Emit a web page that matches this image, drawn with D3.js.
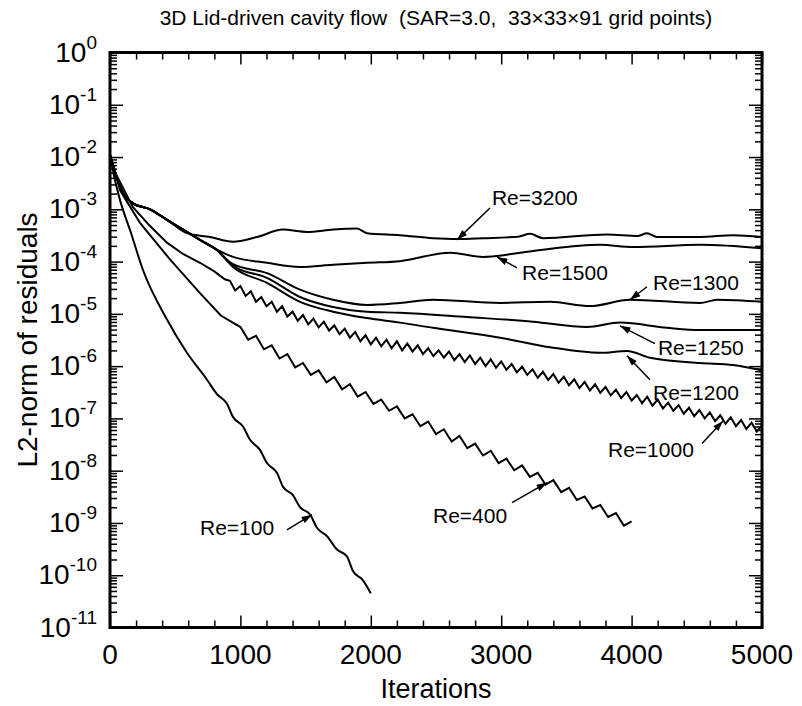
<!DOCTYPE html>
<html>
<head>
<meta charset="utf-8">
<script src="https://cdn.jsdelivr.net/npm/d3@7"></script>
<style>
  body { margin: 0; background: #fff; }
  svg { display: block; }
  text { font-family: "Liberation Sans", Arial, Helvetica, sans-serif; fill: #000; white-space: pre; }
</style>
</head>
<body>
<script>
// residual history, [iteration, L2-norm of residuals]
const re100 = [[0,1.1e-2],[30,4.5e-3],[77,1.5e-3],[160,3.6e-4],[253,6.9e-5],[437,7.8e-6],[590,1.8e-6],
  [744,5.5e-7],[821,2.9e-7],[897,1.9e-7],[943,1.07e-7],[1020,7.0e-8],[1074,3.9e-8],[1150,2.5e-8],
  [1204,1.4e-8],[1281,9.0e-9],[1327,4.9e-9],[1403,3.4e-9],[1457,2.0e-9],[1534,1.45e-9],[1587,8.1e-10],
  [1664,5.6e-10],[1741,3.1e-10],[1817,2.3e-10],[1863,1.2e-10],[1940,8.0e-11],[2000,4.5e-11]];

const re400 = [[0,1.1e-2],[40,5.0e-3],[77,2.3e-3],[230,5.5e-4],[460,1.1e-4],[690,2.5e-5],[850,9.3e-6],
  [1000,5.6e-6],[1060,3.2e-6],[1120,3.8e-6],[1180,2.1e-6],[1240,2.5e-6],[1300,1.4e-6],[1360,1.7e-6],
  [1420,9.5e-7],[1480,1.15e-6],[1540,6.8e-7],[1600,8.3e-7],[1660,4.9e-7],[1720,6.2e-7],[1780,3.6e-7],
  [1840,4.5e-7],[1900,2.6e-7],[1960,3.2e-7],[2020,1.9e-7],[2080,2.3e-7],[2140,1.4e-7],[2200,1.7e-7],
  [2260,1.0e-7],[2320,1.2e-7],[2380,7.1e-8],[2440,8.7e-8],[2500,5.0e-8],[2560,6.2e-8],[2620,3.6e-8],
  [2680,4.6e-8],[2740,2.7e-8],[2800,3.3e-8],[2860,1.95e-8],[2920,2.4e-8],[2980,1.4e-8],[3040,1.7e-8],
  [3100,1.02e-8],[3160,1.26e-8],[3220,7.6e-9],[3280,9.1e-9],[3340,5.4e-9],[3400,6.6e-9],[3460,3.9e-9],
  [3520,4.7e-9],[3580,2.75e-9],[3640,3.2e-9],[3700,1.9e-9],[3760,2.2e-9],[3820,1.3e-9],[3880,1.55e-9],
  [3940,8.9e-10],[4000,1.07e-9]];

const re1000 = [[0,1.1e-2],[40,5.0e-3],[176,1.1e-3],[300,5.0e-4],[437,2.3e-4],[560,1.4e-4],[690,9.5e-5],
  [800,6.5e-5],[880,4.6e-5],
  [920,4.3e-5],[960,2.8e-5],[1000,3.4e-5],[1040,2.2e-5],[1080,2.7e-5],[1120,1.7e-5],[1160,2.1e-5],
  [1200,1.4e-5],[1240,1.7e-5],[1280,1.1e-5],[1320,1.4e-5],[1360,8.9e-6],[1400,1.1e-5],[1440,7.4e-6],
  [1480,9.5e-6],[1520,6.3e-6],[1560,8.1e-6],[1600,5.5e-6],[1640,7.1e-6],[1680,4.8e-6],[1720,6.0e-6],
  [1760,4.1e-6],[1800,5.2e-6],[1840,3.5e-6],[1880,4.5e-6],[1920,3.0e-6],[1960,3.9e-6],[2000,2.6e-6],
  [2040,3.5e-6],[2080,2.4e-6],[2120,3.2e-6],[2160,2.2e-6],[2200,3.0e-6],[2240,2.0e-6],[2280,2.7e-6],
  [2320,1.9e-6],[2360,2.5e-6],[2400,1.7e-6],[2440,2.2e-6],[2480,1.55e-6],[2520,2.0e-6],[2560,1.45e-6],
  [2600,1.9e-6],[2640,1.3e-6],[2680,1.7e-6],[2720,1.2e-6],[2760,1.6e-6],[2800,1.1e-6],[2840,1.45e-6],
  [2880,1.0e-6],[2920,1.35e-6],[2960,9.3e-7],[3000,1.23e-6],[3040,8.5e-7],[3080,1.1e-6],[3120,7.6e-7],
  [3160,9.8e-7],[3200,6.8e-7],[3240,8.7e-7],[3280,6.0e-7],[3320,7.8e-7],[3360,5.4e-7],[3400,7.1e-7],
  [3440,4.8e-7],[3480,6.3e-7],[3520,4.3e-7],[3560,5.6e-7],[3600,3.8e-7],[3640,5.0e-7],[3680,3.4e-7],
  [3720,4.5e-7],[3760,3.1e-7],[3800,4.0e-7],[3840,2.75e-7],[3880,3.55e-7],[3920,2.45e-7],[3960,3.2e-7],
  [4000,2.2e-7],[4040,2.8e-7],[4080,1.95e-7],[4120,2.6e-7],[4160,1.75e-7],[4200,2.3e-7],[4240,1.55e-7],
  [4280,2.0e-7],[4320,1.4e-7],[4360,1.8e-7],[4400,1.23e-7],[4440,1.6e-7],[4480,1.1e-7],[4520,1.45e-7],
  [4560,1.0e-7],[4600,1.3e-7],[4640,8.9e-8],[4680,1.15e-7],[4720,7.9e-8],[4760,1.05e-7],[4800,7.1e-8],
  [4840,9.3e-8],[4880,6.3e-8],[4920,8.3e-8],[4960,5.6e-8],[5000,7.4e-8]];

const re1200 = [[0,1.1e-2],[40,5.0e-3],[77,2.7e-3],[176,1.3e-3],[307,1.0e-3],[437,6.3e-4],
  [560,4.1e-4],[690,2.6e-4],[820,1.66e-4],[943,7.9e-5],[1204,3.9e-5],[1457,1.7e-5],[1710,1.1e-5],
  [1971,8.3e-6],[2224,6.8e-6],[2477,5.4e-6],[2991,3.5e-6],[3374,2.3e-6],[3758,1.8e-6],[3965,1.95e-6],
  [4141,1.45e-6],[4525,1.15e-6],[4778,1.05e-6],[5000,8.3e-7]];

const re1250 = [[0,1.1e-2],[40,5.0e-3],[77,2.7e-3],[176,1.3e-3],[307,1.0e-3],[437,6.3e-4],
  [560,4.1e-4],[690,2.6e-4],[820,1.66e-4],[943,8.3e-5],[1204,4.9e-5],[1457,2.1e-5],[1710,1.35e-5],
  [1971,1.1e-5],[2224,1.05e-5],[2738,8.7e-6],[3244,7.1e-6],[3658,5.6e-6],[3911,6.8e-6],[4272,5.4e-6],
  [4525,4.9e-6],[5000,4.9e-6]];

const re1300 = [[0,1.1e-2],[40,5.0e-3],[77,2.7e-3],[176,1.3e-3],[307,1.0e-3],[437,6.3e-4],
  [560,4.1e-4],[690,2.6e-4],[820,1.66e-4],[943,8.9e-5],[1204,6.0e-5],[1457,2.9e-5],[1710,1.86e-5],
  [1971,1.48e-5],[2224,1.62e-5],[2477,1.86e-5],[2991,1.62e-5],[3374,1.7e-5],[3681,1.41e-5],
  [3988,1.86e-5],[4525,1.62e-5],[4655,1.86e-5],[5000,1.7e-5]];

const re1500 = [[0,1.1e-2],[40,5.0e-3],[77,2.7e-3],[176,1.3e-3],[307,1.0e-3],[437,6.3e-4],
  [560,4.1e-4],[690,2.6e-4],[820,1.7e-4],[943,1.23e-4],[1204,9.5e-5],[1457,7.9e-5],[1710,8.7e-5],
  [1971,9.5e-5],[2224,1.02e-4],[2607,1.48e-4],[2860,1.23e-4],[3244,1.6e-4],[3758,2.1e-4],
  [4011,1.9e-4],[4525,2.1e-4],[5000,1.8e-4]];

const re3200 = [[0,1.1e-2],[40,5.0e-3],[77,2.7e-3],[176,1.3e-3],[307,1.0e-3],[437,6.3e-4],
  [590,3.5e-4],[767,2.95e-4],[943,2.4e-4],[1127,2.95e-4],[1327,4.1e-4],[1511,3.7e-4],[1710,4.1e-4],
  [1894,4.3e-4],[1971,3.5e-4],[2224,3.2e-4],[2477,2.8e-4],[2661,2.7e-4],[2860,2.8e-4],[3130,3.0e-4],
  [3221,3.4e-4],[3321,2.8e-4],[3811,3.3e-4],[4050,3.1e-4],[4118,3.5e-4],[4195,2.95e-4],[4525,2.95e-4],
  [4778,3.2e-4],[5000,2.95e-4]];

const series = [
  { name: 'Re=100', values: re100, zigzag: false },
  { name: 'Re=400', values: re400, zigzag: true },
  { name: 'Re=1000', values: re1000, zigzag: true },
  { name: 'Re=1200', values: re1200, zigzag: false },
  { name: 'Re=1250', values: re1250, zigzag: false },
  { name: 'Re=1300', values: re1300, zigzag: false },
  { name: 'Re=1500', values: re1500, zigzag: false },
  { name: 'Re=3200', values: re3200, zigzag: false }
];

// callouts: text start, arrow tail, arrow tip (iteration, residual)
const callouts = [
  { text: 'Re=3200', at: [2929, 1.2e-3],  from: [2914, 1.06e-3], to: [2661, 2.6e-4] },
  { text: 'Re=1500', at: [3160, 4.5e-5],  from: [3121, 7.6e-5],  to: [2968, 1.23e-4] },
  { text: 'Re=1300', at: [4164, 2.9e-5],  from: [4118, 3.3e-5],  to: [3988, 1.86e-5] },
  { text: 'Re=1250', at: [4202, 1.65e-6], from: [4179, 2.7e-6],  to: [3911, 5.9e-6] },
  { text: 'Re=1200', at: [4164, 2.3e-7],  from: [4141, 5.5e-7],  to: [3965, 1.58e-6] },
  { text: 'Re=1000', at: [3819, 1.85e-8], from: [4540, 3.3e-8],  to: [4701, 8.9e-8] },
  { text: 'Re=400',  at: [2477, 1.0e-9],  from: [3083, 2.45e-9], to: [3351, 5.9e-9] },
  { text: 'Re=100',  at: [690, 5.9e-10],  from: [1357, 7.4e-10], to: [1549, 1.44e-9] }
];

const xMajor = [0, 1000, 2000, 3000, 4000, 5000];
const yExponents = [0, -1, -2, -3, -4, -5, -6, -7, -8, -9, -10, -11];

const titleText = '3D Lid-driven cavity flow  (SAR=3.0,  33\u00d733\u00d791 grid points)';
const xTitle = 'Iterations';
const yTitle = 'L2-norm of residuals';

const width = 802, height = 706;
const margin = { top: 52.5, right: 40, bottom: 78.5, left: 110 };

const svg = d3.select('body').append('svg')
  .attr('width', width)
  .attr('height', height);

const x = d3.scaleLinear().domain([0, 5000]).range([margin.left, width - margin.right]);
const y = d3.scaleLog().domain([1e-11, 1]).range([height - margin.bottom, margin.top]);

const defs = svg.append('defs');
defs.append('marker')
  .attr('id', 'head')
  .attr('markerUnits', 'userSpaceOnUse')
  .attr('viewBox', '0 0 12 8')
  .attr('refX', 12).attr('refY', 4)
  .attr('markerWidth', 13).attr('markerHeight', 7)
  .attr('orient', 'auto')
  .append('path')
  .attr('d', 'M0,0 L12,4 L0,8 Z')
  .attr('fill', '#000');

// minor ticks
const xMinor = d3.range(0, 5001, 200).filter(v => v % 1000 !== 0);
const yMinor = [];
yExponents.slice(1).forEach(e => {
  for (let m = 2; m <= 9; m++) yMinor.push(m * Math.pow(10, e));
});

function tickAxis(axisFn, scale, values, size, translate) {
  const g = svg.append('g')
    .attr('transform', translate)
    .call(axisFn(scale).tickValues(values).tickSize(size).tickFormat(''));
  g.select('.domain').remove();
  g.selectAll('.tick line').attr('stroke', '#000').attr('stroke-width', 1.5);
  return g;
}

const bottomY = height - margin.bottom, rightX = width - margin.right;

tickAxis(d3.axisBottom, x, xMajor, -12, `translate(0,${bottomY})`);
tickAxis(d3.axisBottom, x, xMinor, -7, `translate(0,${bottomY})`);
tickAxis(d3.axisTop, x, xMajor, -12, `translate(0,${margin.top})`);
tickAxis(d3.axisTop, x, xMinor, -7, `translate(0,${margin.top})`);

const yMajor = yExponents.map(e => Math.pow(10, e));
tickAxis(d3.axisLeft, y, yMajor, -13, `translate(${margin.left},0)`);
tickAxis(d3.axisLeft, y, yMinor, -7, `translate(${margin.left},0)`);
tickAxis(d3.axisRight, y, yMajor, -13, `translate(${rightX},0)`);
tickAxis(d3.axisRight, y, yMinor, -7, `translate(${rightX},0)`);

// curves
const line = d3.line()
  .x(d => x(d[0]))
  .y(d => y(d[1]));

const smooth = d3.line()
  .x(d => x(d[0]))
  .y(d => y(d[1]))
  .curve(d3.curveMonotoneX);

const plot = svg.append('g');
plot.selectAll('path.curve')
  .data(series)
  .join('path')
  .attr('class', 'curve')
  .attr('d', s => (s.zigzag ? line : smooth)(s.values))
  .attr('fill', 'none')
  .attr('stroke', '#000')
  .attr('stroke-width', 2)
  .attr('stroke-linejoin', 'miter');

// frame
svg.append('rect')
  .attr('x', margin.left)
  .attr('y', margin.top)
  .attr('width', rightX - margin.left)
  .attr('height', bottomY - margin.top)
  .attr('fill', 'none')
  .attr('stroke', '#000')
  .attr('stroke-width', 3);

// x tick labels
svg.append('g')
  .selectAll('text')
  .data(xMajor)
  .join('text')
  .attr('x', d => x(d))
  .attr('y', bottomY + 36)
  .attr('text-anchor', 'middle')
  .attr('font-size', 28)
  .text(d => d);

// y tick labels: 10 with superscript exponent
const yl = svg.append('g')
  .selectAll('text')
  .data(yExponents)
  .join('text')
  .attr('x', 97)
  .attr('y', d => y(Math.pow(10, d)) + 9)
  .attr('text-anchor', 'end')
  .attr('font-size', 28);
yl.append('tspan').text('10');
yl.append('tspan')
  .attr('dy', -13)
  .attr('font-size', 19)
  .text(d => d);

// titles
svg.append('text')
  .attr('x', (margin.left + rightX) / 2)
  .attr('y', 25)
  .attr('text-anchor', 'middle')
  .attr('font-size', 21)
  .text(titleText);

svg.append('text')
  .attr('x', (margin.left + rightX) / 2)
  .attr('y', 698)
  .attr('text-anchor', 'middle')
  .attr('font-size', 27)
  .text(xTitle);

svg.append('text')
  .attr('transform', `translate(37,${(margin.top + bottomY) / 2}) rotate(-90)`)
  .attr('text-anchor', 'middle')
  .attr('font-size', 28)
  .text(yTitle);

// callouts
const notes = svg.append('g');
notes.selectAll('line')
  .data(callouts)
  .join('line')
  .attr('x1', d => x(d.from[0]))
  .attr('y1', d => y(d.from[1]))
  .attr('x2', d => x(d.to[0]))
  .attr('y2', d => y(d.to[1]))
  .attr('stroke', '#000')
  .attr('stroke-width', 1.5)
  .attr('marker-end', 'url(#head)');

notes.selectAll('text')
  .data(callouts)
  .join('text')
  .attr('x', d => x(d.at[0]))
  .attr('y', d => y(d.at[1]))
  .attr('font-size', 21)
  .text(d => d.text);
</script>
</body>
</html>
